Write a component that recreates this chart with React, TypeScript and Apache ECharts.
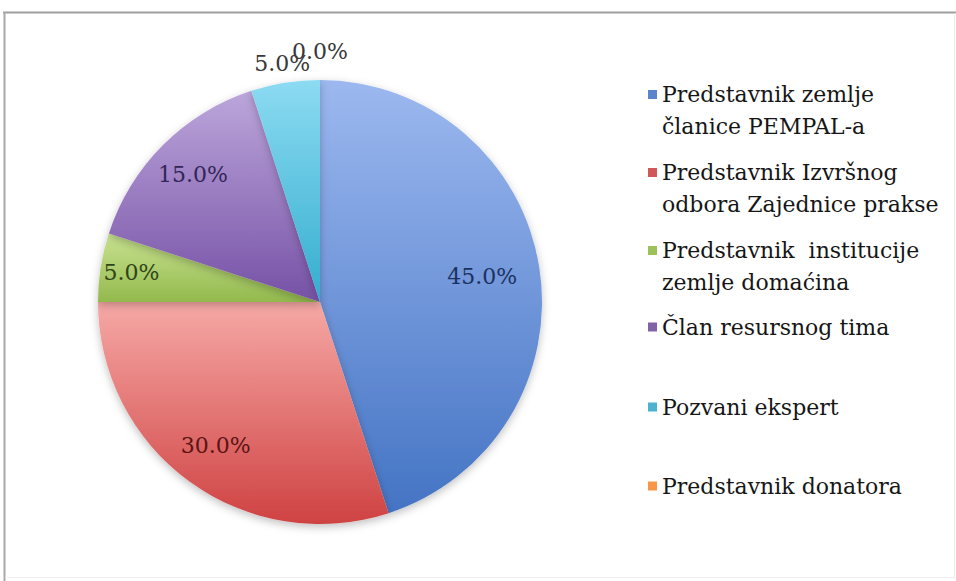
import React, { useEffect, useRef } from "react";
import * as echarts from "echarts";

const categories = [
  "Predstavnik zemlje\nčlanice PEMPAL-a",
  "Predstavnik Izvršnog\nodbora Zajednice prakse",
  "Predstavnik  institucije\nzemlje domaćina",
  "Član resursnog tima",
  "Pozvani ekspert",
  "Predstavnik donatora",
];
const values = [45, 30, 5, 15, 5, 0];

const lightColors = ["#9cb8ef", "#f6a9a6", "#c9e391", "#bca6db", "#8cdbf2", "#fbb27c"];
const darkColors = ["#4474c4", "#cf4242", "#93b94d", "#7651a6", "#33adce", "#f08a3a"];
const legendColors = ["#5b84cc", "#d0575a", "#9cc05a", "#8064a6", "#4bb3d0", "#f79646"];
const labelColors = ["#1b3260", "#5a1414", "#30441a", "#322656", "#383838", "#383838"];
const legendTops = [78, 156, 234, 311, 391, 470];

const FONT = "DejaVu Serif";
const CENTER = [320, 302];
const R = 222;

export default function App() {
  const ref = useRef<HTMLDivElement>(null);
  useEffect(() => {
    if (!ref.current) return;
    const chart = echarts.init(ref.current, undefined, { renderer: "svg" });
    const sum = values.reduce((a, b) => a + b, 0);
    const pct = (v: number) => `${((v / sum) * 100).toFixed(1)}%`;

    // distance of each label from the pie centre (layout, as in the reference)
    const labelRadius = [R * 0.74, R * 0.8, R * 0.86, R * 0.81, R + 19, R + 29];

    const baseData = categories.map((name, i) => ({
      name,
      value: values[i],
      itemStyle: {
        color: {
          type: "linear",
          x: 0, y: 0, x2: 0, y2: 1,
          colorStops: [
            { offset: 0, color: lightColors[i] },
            { offset: 1, color: darkColors[i] },
          ],
        },
      },
    }));

    // percentage labels placed along each slice's mid angle
    let cum = 0;
    const labelData = values.map((v, i) => {
      const mid = cum + v / 2;
      cum += v;
      return {
        name: categories[i],
        value: [labelRadius[i], mid],
        label: { color: labelColors[i], formatter: pct(v) },
      };
    });

    const legends = categories.map((name, i) => {
      const twoLine = name.includes("\n");
      return {
        orient: "vertical",
        left: 648,
        top: legendTops[i],
        padding: 0,
        itemWidth: 9,
        itemHeight: twoLine ? 40 : 9,
        selectedMode: false,
        data: [
          {
            name,
            icon: twoLine ? "path://M0,0H9V9H0ZM0,40" : "rect",
            itemStyle: { color: legendColors[i] },
          },
        ],
        textStyle: { fontFamily: FONT, fontSize: 22, lineHeight: 32, color: "#161616" },
      };
    });

    chart.setOption({
      animation: false,
      backgroundColor: "#ffffff",
      legend: legends,
      polar: { center: CENTER, radius: R + 40 },
      angleAxis: {
        type: "value",
        min: 0,
        max: sum,
        startAngle: 90,
        clockwise: true,
        show: false,
      },
      radiusAxis: { type: "value", min: 0, max: R + 40, show: false },
      graphic: [
        { type: "line", silent: true, shape: { x1: 3, y1: 12.5, x2: 956, y2: 12.5 }, style: { stroke: "#9e9e9e", lineWidth: 2 } },
        { type: "line", silent: true, shape: { x1: 4.5, y1: 12, x2: 4.5, y2: 581 }, style: { stroke: "#a8a8a8", lineWidth: 2 } },
        { type: "line", silent: true, shape: { x1: 954.5, y1: 13, x2: 954.5, y2: 578 }, style: { stroke: "#ececec", lineWidth: 1 } },
        { type: "line", silent: true, shape: { x1: 5, y1: 577.5, x2: 955, y2: 577.5 }, style: { stroke: "#eeeeee", lineWidth: 1 } },
      ],
      series: [
        {
          type: "pie",
          center: CENTER,
          radius: R,
          startAngle: 90,
          clockwise: true,
          silent: true,
          label: { show: false },
          labelLine: { show: false },
          itemStyle: {
            borderWidth: 0,
            shadowBlur: 8,
            shadowOffsetY: 3,
            shadowColor: "rgba(0,0,0,0.25)",
          },
          data: baseData,
        },
        {
          type: "scatter",
          coordinateSystem: "polar",
          symbolSize: 1,
          itemStyle: { color: "#ffffff", opacity: 0 },
          silent: true,
          label: {
            show: true,
            position: "inside",
            fontFamily: FONT,
            fontSize: 22,
            opacity: 1,
            textBorderWidth: 0,
            textBorderColor: "transparent",
          },
          emphasis: { disabled: true },
          data: labelData,
          z: 5,
        },
      ],
    });
    return () => chart.dispose();
  }, []);
  return (
    <div
      ref={ref}
      style={{ position: "absolute", left: 0, top: 0, width: 956, height: 581 }}
    />
  );
}
